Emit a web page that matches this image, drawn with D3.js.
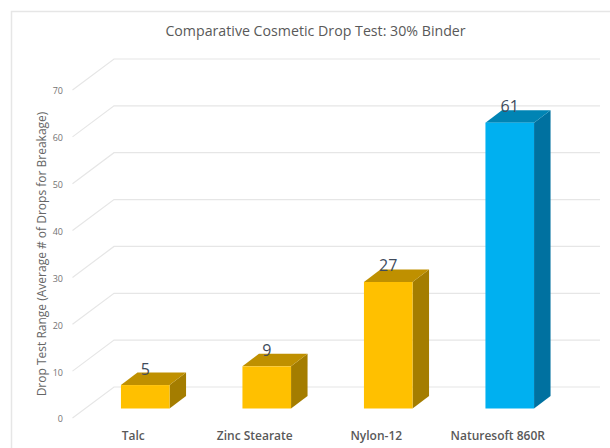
<!DOCTYPE html>
<html>
<head>
<meta charset="utf-8">
<script src="https://cdn.jsdelivr.net/npm/d3@7"></script>
<style>
  html, body { margin: 0; padding: 0; background: #fff; }
  svg { display: block; font-family: "Open Sans", sans-serif; }
</style>
</head>
<body>
<script>
// Chart data
var categories = ["Talc", "Zinc Stearate", "Nylon-12", "Naturesoft 860R"]
var values = [5, 9, 27, 61]
var barColors = ["amber", "amber", "amber", "blue"]
var yTicks = [0, 10, 20, 30, 40, 50, 60, 70]

// Face colours of the 3D bars
var faces = {
  amber: {front: "#FFC000", top: "#BF9000", side: "#A47D00"},
  blue: {front: "#00B0F0", top: "#0084B4", side: "#0071A0"}
}

var svgW = 610
var svgH = 448

// Floor and wall geometry
var floorLeft = 72.5
var floorRight = 558.5
var wallDx = 41.5
var wallDy = -31
var barInset = 12
var barBase = 9.5
var barDx = 16.5
var barDy = -12.5

var svg = d3.select("body")
            .append("svg")
            .attr("width", svgW)
            .attr("height", svgH);

// Scales
var yScale = d3.scaleLinear()
               .domain([0, 70])
               .range([418, 90]);

var xScale = d3.scaleBand()
               .domain(categories)
               .range([floorLeft, floorRight])
               .paddingInner(0.6)
               .paddingOuter(0.3);

// Chart frame (runs off the right and bottom of the crop)
svg.append("path")
   .attr("d", "M11.5," + svgH + "V11.5H" + svgW)
   .attr("fill", "none")
   .attr("stroke", "#E6E6E6")
   .attr("stroke-width", 1.5);

// Gridlines: slanted along the side wall, then flat along the back wall
svg.append("g")
   .selectAll("path")
   .data(yTicks)
   .enter()
   .append("path")
     .attr("d", function(d) {
       return "M" + floorLeft + "," + yScale(d)
         + "L" + (floorLeft + wallDx) + "," + (yScale(d) + wallDy)
         + "H" + (floorRight + wallDx)
     })
     .attr("fill", "none")
     .attr("stroke", "#E6E6E6")
     .attr("stroke-width", 1.2);

// Bars
var bars = svg.append("g")
              .selectAll("g")
              .data(categories)
              .enter()
              .append("g");

function barLeft(d) { return xScale(d) + barInset }
function barRight(d) { return barLeft(d) + xScale.bandwidth() }
function barTop(i) { return yScale(values[i]) - barBase }
function barBottom() { return yScale(0) - barBase }

bars.append("path")
    .attr("d", function(d, i) {
      return "M" + barRight(d) + "," + barBottom()
        + "L" + (barRight(d) + barDx) + "," + (barBottom() + barDy)
        + "V" + (barTop(i) + barDy)
        + "L" + barRight(d) + "," + barTop(i) + "Z"
    })
    .attr("fill", function(d, i) { return faces[barColors[i]].side });

bars.append("path")
    .attr("d", function(d, i) {
      return "M" + barLeft(d) + "," + barTop(i)
        + "L" + (barLeft(d) + barDx) + "," + (barTop(i) + barDy)
        + "H" + (barRight(d) + barDx)
        + "L" + barRight(d) + "," + barTop(i) + "Z"
    })
    .attr("fill", function(d, i) { return faces[barColors[i]].top });

bars.append("rect")
    .attr("x", function(d) { return barLeft(d) })
    .attr("y", function(d, i) { return barTop(i) })
    .attr("width", xScale.bandwidth())
    .attr("height", function(d, i) { return barBottom() - barTop(i) })
    .attr("fill", function(d, i) { return faces[barColors[i]].front });

// Value labels
bars.append("text")
    .attr("x", function(d) { return barLeft(d) + xScale.bandwidth() / 2 })
    .attr("y", function(d, i) { return barTop(i) - 10.5 })
    .attr("text-anchor", "middle")
    .attr("font-size", "16px")
    .attr("fill", "#404B5C")
    .text(function(d, i) { return values[i] });

// Y axis
var yAxis = d3.axisLeft(yScale)
              .tickValues(yTicks)
              .tickSize(0)
              .tickPadding(9.5);
var yAxisG = svg.append("g")
                .attr("transform", "translate(" + floorLeft + ",1)")
                .call(yAxis);
yAxisG.select(".domain").remove();
yAxisG.selectAll("text")
      .attr("font-family", "'Open Sans', sans-serif")
      .attr("font-size", "9px")
      .attr("fill", "#737373");

// X axis
var xAxis = d3.axisBottom(xScale)
              .tickSize(0)
              .tickPadding(0);
var xAxisG = svg.append("g")
                .attr("transform", "translate(0,431)")
                .call(xAxis);
xAxisG.select(".domain").remove();
xAxisG.selectAll("text")
      .attr("font-family", "'Open Sans', sans-serif")
      .attr("font-size", "12px")
      .attr("font-weight", "600")
      .attr("fill", "#595959");

// Axis title
svg.append("text")
   .attr("transform", "translate(46,254) rotate(-90)")
   .attr("text-anchor", "middle")
   .attr("font-size", "12px")
   .attr("fill", "#666666")
   .text("Drop Test Range (Average # of Drops for Breakage)");

// Title
svg.append("text")
   .attr("x", 315.5)
   .attr("y", 36)
   .attr("text-anchor", "middle")
   .attr("font-size", "14.2px")
   .attr("fill", "#595959")
   .text("Comparative Cosmetic Drop Test: 30% Binder");
</script>
</body>
</html>
